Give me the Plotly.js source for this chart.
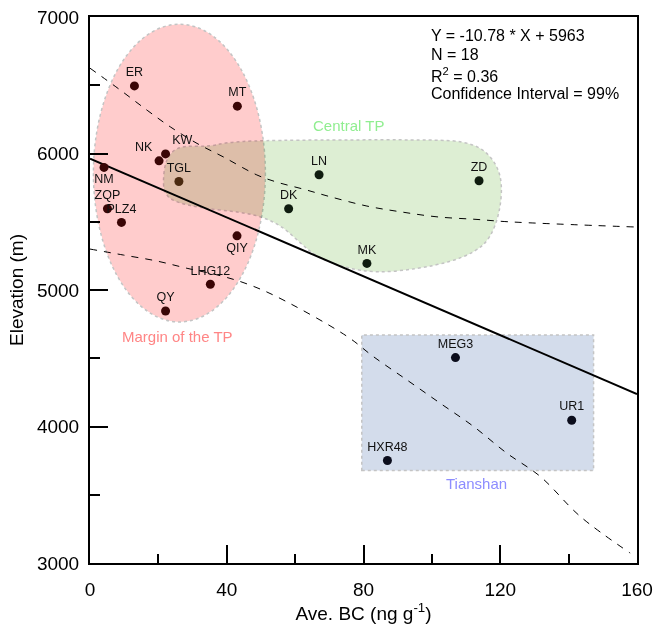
<!DOCTYPE html>
<html><head><meta charset="utf-8">
<script src="https://cdn.plot.ly/plotly-3.0.1.min.js"></script>
<style>
body{margin:0;background:#fff}
#chart .shapelayer > g, #chart .shapelayer > path, #chart .shapelayer g path { mix-blend-mode: multiply; }
</style></head><body>
<div id="chart" style="width:656px;height:630px"></div>
<script>
// ---- data ----
const sites     = ['ER','MT','KW','NK','NM','TGL','ZQP','PLZ4','QIY','LHG12','QY','LN','DK','ZD','MK','MEG3','UR1','HXR48'];
const aveBC     = [13.0,43.1,22.1,20.2,4.1,26.0,5.1,9.2,43.0,35.2,22.1,67.0,58.1,113.8,81.0,106.9,140.9,87.0];
const elevation = [6495,6347,5997,5946,5898,5795,5595,5495,5397,5042,4846,5844,5595,5800,5195,4505,4046,3751];
const regionOf  = ['Margin','Margin','Margin','Margin','Margin','Margin','Margin','Margin','Margin','Margin','Margin',
                   'Central','Central','Central','Central','Tianshan','Tianshan','Tianshan'];

const fitX = [0, 160];
const fitY = [5963, 4238];

const ciUpperX = [0, 8.9, 16.7, 23.5, 31.3, 39.0, 48.8, 54.7, 62.4, 70.3, 81.0, 90.8, 101.5, 113.2, 122.3, 160];
const ciUpperY = [6625, 6464, 6317, 6195, 6074, 5975, 5843, 5790, 5739, 5683, 5615, 5573, 5536, 5517, 5500, 5461];
const ciLowerX = [0, 9.8, 19.6, 28.4, 38.1, 45.9, 54.7, 75.1, 82.9, 92.7, 102.4, 112.2, 121.9, 131.7, 143.4, 158.0];
const ciLowerY = [5300, 5256, 5212, 5159, 5105, 5045, 4950, 4662, 4512, 4341, 4171, 4000, 3805, 3634, 3341, 3073];

const xTicks = [0, 40, 80, 120, 160];
const yTicks = [3000, 4000, 5000, 6000, 7000];

const statsLines = ['Y = -10.78 * X + 5963', 'N = 18', 'R<sup>2</sup> = 0.36', 'Confidence Interval = 99%'];

// ---- region outlines (geometry) ----
const centralBlobX = [21.4,22.0,24.1,27.3,35.2,40.1,49.8,73.2,101.5,109.1,115.0,119.1,120.6,119.8,117.1,112.7,105.3,95.7,84.0,74.1,66.5,61.5,56.5,50.7,44.0,32.3,24.1,21.7];
const centralBlobY = [5805,5935,6020,6055,6052,6082,6095,6100,6100,6088,6035,5915,5768,5564,5380,5280,5205,5155,5125,5165,5241,5344,5461,5534,5571,5600,5651,5717];

function smoothClosedPath(xs, ys) {
  const n = xs.length;
  const mid = (i, j) => [(xs[i] + xs[j]) / 2, (ys[i] + ys[j]) / 2];
  let m = mid(n - 1, 0);
  let d = 'M' + m[0] + ',' + m[1];
  for (let i = 0; i < n; i++) {
    const j = (i + 1) % n;
    const q = mid(i, j);
    d += ' Q' + xs[i] + ',' + ys[i] + ' ' + q[0] + ',' + q[1];
  }
  return d + ' Z';
}

const labelPos = {KW:'top right', NK:'top left', NM:'bottom center', QIY:'bottom center'};
const markerColor = {Margin:'#3a0606', Central:'#0f1c0f', Tianshan:'#0b0d1c'};

const font = 'Liberation Sans, Arial, sans-serif';
const traces = [];

traces.push({x: ciUpperX, y: ciUpperY, mode: 'lines', line: {color: '#000', width: 1, dash: '7px,7px', shape: 'spline'}, showlegend: false});
traces.push({x: ciLowerX, y: ciLowerY, mode: 'lines', line: {color: '#000', width: 1, dash: '7px,7px', shape: 'spline'}, showlegend: false});
traces.push({x: fitX, y: fitY, mode: 'lines', line: {color: '#000', width: 2}, showlegend: false});

traces.push({
  x: aveBC, y: elevation, text: sites, mode: 'markers+text',
  textposition: sites.map(s => labelPos[s] || 'top center'),
  textfont: {family: font, size: 12.5, color: '#111'},
  marker: {size: 9, color: sites.map((s, i) => s === 'TGL' ? '#4a2a10' : markerColor[regionOf[i]])},
  cliponaxis: false, showlegend: false
});

const statsY = [6866, 6723, 6578, 6442];
const annotations = statsLines.map((t, i) => ({
  x: 99.5, y: statsY[i], xref: 'x', yref: 'y', xanchor: 'left', yanchor: 'middle', align: 'left',
  showarrow: false, text: t, font: {family: font, size: 16, color: '#000'}, borderpad: 0
}));
annotations.push(
  {x: 75.5, y: 6208, xref: 'x', yref: 'y', showarrow: false, text: 'Central TP', font: {family: font, size: 15, color: '#90EE90'}},
  {x: 25.5, y: 4663, xref: 'x', yref: 'y', showarrow: false, text: 'Margin of the TP', font: {family: font, size: 15, color: '#FF8585'}},
  {x: 113, y: 3579, xref: 'x', yref: 'y', showarrow: false, text: 'Tianshan', font: {family: font, size: 15, color: '#8C8CFF'}}
);

const layout = {
  width: 656, height: 630,
  margin: {l: 90, r: 19, t: 17, b: 67},
  paper_bgcolor: '#fff', plot_bgcolor: 'rgba(0,0,0,0)',
  font: {family: font, color: '#000'},
  showlegend: false,
  xaxis: {
    range: [0, 160], tickvals: xTicks, ticktext: xTicks.map(String),
    ticks: 'inside', ticklen: 18, tickwidth: 2, tickcolor: '#000', ticklabelstandoff: 8,
    minor: {dtick: 20, tick0: 0, ticks: 'inside', ticklen: 9, tickwidth: 2, tickcolor: '#000', showgrid: false},
    showline: true, linewidth: 2, linecolor: '#000', mirror: true,
    showgrid: false, zeroline: false,
    tickfont: {family: font, size: 19},
    title: {text: 'Ave. BC (ng g<sup>-1</sup>)', font: {family: font, size: 19}, standoff: 0}
  },
  yaxis: {
    range: [3000, 7000], tickvals: yTicks, ticktext: yTicks.map(String),
    ticks: 'inside', ticklen: 18, tickwidth: 2, tickcolor: '#000', ticklabelstandoff: 5,
    minor: {dtick: 500, tick0: 3000, ticks: 'inside', ticklen: 10, tickwidth: 2, tickcolor: '#000', showgrid: false},
    showline: true, linewidth: 2, linecolor: '#000', mirror: true,
    showgrid: false, zeroline: false,
    tickfont: {family: font, size: 19},
    title: {text: 'Elevation (m)', font: {family: font, size: 19}, standoff: 8}
  },
  shapes: [
    {type: 'circle', xref: 'x', yref: 'y', x0: 1.0, x1: 51.3, y0: 4766, y1: 6947,
     fillcolor: '#FFCCCC', line: {color: '#c4c4c4', width: 1.5, dash: 'dot'}, layer: 'below'},
    {type: 'path', xref: 'x', yref: 'y', path: smoothClosedPath(centralBlobX, centralBlobY),
     fillcolor: '#DDEED3', line: {color: '#c4c4c4', width: 1.5, dash: 'dot'}, layer: 'below'},
    {type: 'rect', xref: 'x', yref: 'y', x0: 79.5, x1: 147.3, y0: 3678, y1: 4671,
     fillcolor: '#D3DCEB', line: {color: '#c4c4c4', width: 1.5, dash: 'dot'}, layer: 'below'}
  ],
  annotations: annotations
};

Plotly.newPlot('chart', traces, layout, {displayModeBar: false, staticPlot: true}).then(gd => {
  // let the overlapping regions mix like translucent films (multiply)
  gd.querySelectorAll('.shapelayer path').forEach(p => {
    let el = p;
    while (el && el.parentNode && !(el.parentNode.classList && el.parentNode.classList.contains('shapelayer'))) el = el.parentNode;
    if (el) el.style.mixBlendMode = 'multiply';
    p.style.mixBlendMode = 'multiply';
  });
});
</script>
</body></html>
